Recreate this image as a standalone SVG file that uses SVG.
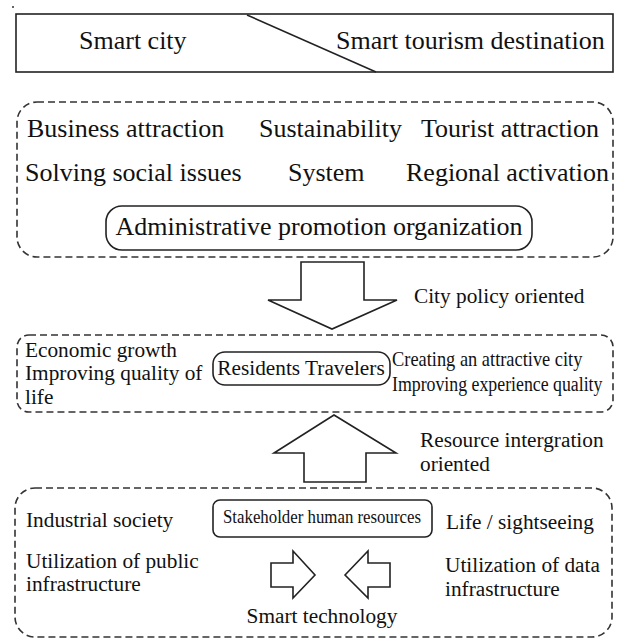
<svg xmlns="http://www.w3.org/2000/svg" width="618" height="641" viewBox="0 0 618 641">
<style>
text{font-family:"Liberation Serif","Times New Roman",serif;fill:#111;}
.big{font-size:26px;}
.mid{font-size:21.3px;}
.solid{fill:#fff;stroke:#222;stroke-width:1.6;}
.dash{fill:none;stroke:#333;stroke-width:1.6;stroke-dasharray:7 4;}
.arrow{fill:#fff;stroke:#222;stroke-width:1.6;stroke-linejoin:miter;}
</style>
<rect width="618" height="641" fill="#fff"/>
<circle cx="13" cy="7" r="1" fill="#333"/>
<g id="header">
<rect class="solid" x="16" y="14" width="597" height="58"/>
<line x1="247" y1="15" x2="376" y2="72" stroke="#222" stroke-width="1.6"/>
<text class="big" x="79" y="49" font-size="25">Smart city</text>
<text class="big" x="336" y="49">Smart tourism destination</text>
</g>
<g id="policy-box">
<rect class="dash" x="17" y="102" width="596" height="155" rx="20"/>
<text class="big" x="27" y="137">Business attraction</text>
<text class="big" x="259" y="137">Sustainability</text>
<text class="big" x="421" y="137">Tourist attraction</text>
<text class="big" x="25" y="181">Solving social issues</text>
<text class="big" x="288" y="181">System</text>
<text class="big" x="406" y="181">Regional activation</text>
<g id="admin-org">
<rect class="solid" x="106" y="206" width="426" height="44" rx="16"/>
<text class="big" x="319" y="235" text-anchor="middle">Administrative promotion organization</text>
</g>
</g>
<g id="connectors">
<polygon class="arrow" points="301,262 364,262 364,300 397,300 332,329 268,300 301,300"/>
<polygon class="arrow" points="334,415 396,453 366,453 366,482 304,482 304,453 274,453"/>
<polygon class="arrow" points="271,563 293,563 293,551 315,575 293,598 293,587 271,587"/>
<polygon class="arrow" points="345,575 368,551 368,563 390,563 390,587 368,587 368,598"/>
<text class="mid" x="414" y="303">City policy oriented</text>
<text class="mid" x="420" y="447">Resource intergration</text>
<text class="mid" x="420" y="471">oriented</text>
</g>
<g id="people-box">
<rect class="dash" x="17" y="335" width="596" height="77" rx="12"/>
<text class="mid" x="25" y="357">Economic growth</text>
<text class="mid" x="25" y="380">Improving quality of</text>
<text class="mid" x="25" y="404">life</text>
<g id="residents">
<rect class="solid" x="213" y="352" width="177" height="33" rx="12"/>
<text class="mid" x="301" y="375" text-anchor="middle">Residents Travelers</text>
</g>
<text transform="translate(392,366) scale(0.92,1)" font-size="20">Creating an attractive city</text>
<text transform="translate(392,391) scale(0.89,1)" font-size="20">Improving experience quality</text>
</g>
<g id="resource-box">
<rect class="dash" x="15" y="488" width="597" height="149" rx="20"/>
<text class="mid" x="26" y="527">Industrial society</text>
<g id="stakeholder">
<rect class="solid" x="213" y="500" width="219" height="37" rx="7"/>
<text x="322" y="523" font-size="18" text-anchor="middle" textLength="198" lengthAdjust="spacingAndGlyphs">Stakeholder human resources</text>
</g>
<text class="mid" x="446" y="529">Life / sightseeing</text>
<text class="mid" x="26" y="568">Utilization of public</text>
<text class="mid" x="26" y="591">infrastructure</text>
<text class="mid" x="445" y="572">Utilization of data</text>
<text class="mid" x="445" y="596">infrastructure</text>
<text class="mid" x="322" y="623" text-anchor="middle">Smart technology</text>
</g>
</svg>
